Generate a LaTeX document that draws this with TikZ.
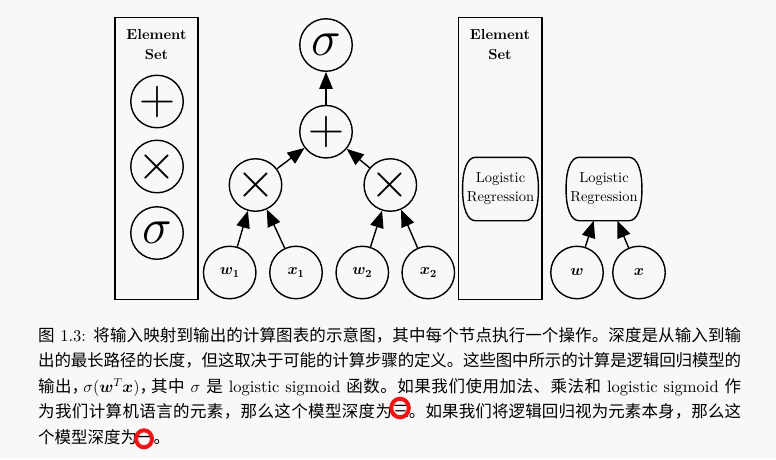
\RequirePackage{fix-cm}
\documentclass[tikz,border=0pt]{standalone}
\usepackage{fontspec}
\usepackage{bm}
\setmainfont{lmroman10-regular.otf}[BoldFont=lmroman10-bold.otf,
  ItalicFont=lmroman10-italic.otf, BoldItalicFont=lmroman10-bolditalic.otf]
\newfontfamily\cjk{Noto Sans CJK SC}
\newfontfamily\cjkhalf{Noto Sans CJK SC}[RawFeature=+halt]
\usetikzlibrary{arrows.meta}

% stretchable glue between CJK characters, so caption lines can be justified
\XeTeXinterchartokenstate=1
\newXeTeXintercharclass\cjkcls
\newcount\cjkidx
\cjkidx="4E00
\loop \XeTeXcharclass\cjkidx=\cjkcls \advance\cjkidx by 1 \ifnum\cjkidx<"A000 \repeat
\XeTeXcharclass"FF0C=\cjkcls
\XeTeXcharclass"3002=\cjkcls
\XeTeXcharclass"3001=\cjkcls
\XeTeXinterchartoks\cjkcls\cjkcls={\hskip 0pt plus 3pt minus 1pt\relax}

\definecolor{pagebg}{RGB}{248,248,248}
\definecolor{markred}{RGB}{240,20,20}

% outline of a "Logistic Regression" block: straight top and bottom, bulging sides
\newcommand\lrframe[1]{%
  \draw[lrline] ([xshift=13pt]#1.north west) -- ([xshift=-13pt]#1.north east)
    .. controls ([xshift=-5pt]#1.north east) and ([yshift=20pt]#1.east) .. (#1.east)
    .. controls ([yshift=-20pt]#1.east) and ([xshift=-5pt]#1.south east) .. ([xshift=-13pt]#1.south east)
    -- ([xshift=13pt]#1.south west)
    .. controls ([xshift=5pt]#1.south west) and ([yshift=-20pt]#1.west) .. (#1.west)
    .. controls ([yshift=20pt]#1.west) and ([xshift=5pt]#1.north west) .. cycle;}

\begin{document}
\begin{tikzpicture}[x=1pt,y=-1pt,
  opnode/.style={circle, draw, line width=1.4pt, minimum size=52.5pt, inner sep=0pt,
    font=\fontsize{50}{50}\selectfont},
  varnode/.style={circle, draw, line width=1.4pt, minimum size=52.5pt, inner sep=0pt,
    font=\fontsize{15.5}{19}\selectfont},
  setbox/.style={draw, line width=1.6pt, minimum width=83.4pt, minimum height=282pt, inner sep=0pt},
  settitle/.style={align=center, inner sep=0pt, font=\bfseries\fontsize{14.5}{20}\selectfont},
  lrnode/.style={minimum width=75.5pt, minimum height=63pt, inner sep=0pt, align=center,
    font=\fontsize{14.5}{19}\selectfont},
  lrline/.style={line width=1.4pt},
  flow/.style={-{Triangle[length=17pt,width=13.5pt]}, line width=1.4pt},
  capline/.style={anchor=base west, inner sep=0pt, font=\fontsize{16.5}{25.5}\selectfont},
  redmark/.style={draw=markred, line width=4pt}
]
\fill[pagebg] (0,0) rectangle (776,459);
\useasboundingbox (0,0) rectangle (776,459);

% element set: basic operations
\node[setbox] (setA) at (156.5,158.3) {};
\node[settitle] (setAtitle) at (156.5,45) {Element\\Set};
\node[opnode] (eplus) at (157,101.5) {$+$};
\node[opnode] (etimes) at (157,166.5) {$\times$};
\node[opnode] (esigma) at (157,233) {$\sigma$};

% graph built from the basic operations
\node[opnode] (sig) at (326,45) {$\sigma$};
\node[opnode] (add) at (326,131.7) {$+$};
\node[opnode] (mulA) at (255.5,185) {$\times$};
\node[opnode] (mulB) at (390.3,185) {$\times$};
\node[varnode] (wA) at (229.7,272.5) {$\bm{w_1}$};
\node[varnode] (xA) at (296,272.5) {$\bm{x_1}$};
\node[varnode] (wB) at (362.3,272.5) {$\bm{w_2}$};
\node[varnode] (xB) at (428.3,272.5) {$\bm{x_2}$};

\draw[flow] (add) -- (sig);
\draw[flow] (mulA) -- (add);
\draw[flow] (mulB) -- (add);
\draw[flow] (wA) -- (mulA);
\draw[flow] (xA) -- (mulA);
\draw[flow] (wB) -- (mulB);
\draw[flow] (xB) -- (mulB);

% element set: logistic regression as a single element
\node[setbox] (setB) at (500,158.3) {};
\node[settitle] (setBtitle) at (500,45) {Element\\Set};
\node[lrnode] (elr) at (500.5,189) {Logistic\\Regression};
\lrframe{elr}

% graph built from the logistic regression element
\node[lrnode] (lr) at (604,189) {Logistic\\Regression};
\lrframe{lr}
\node[varnode] (wv) at (577,272.5) {$\bm{w}$};
\node[varnode] (xv) at (639,272.5) {$\bm{x}$};
\draw[flow] (wv) -- (lr);
\draw[flow] (xv) -- (lr);

% caption
\node[capline] (cap1) at (38,341.3) {\makebox[703pt][s]{{\cjk 图} 1.3: {\cjk 将输入映射到输出的计算图表的示意图，其中每个节点执行一个操作。深度是从输入到输}}};
\node[capline] (cap2) at (38,366.8) {\makebox[703pt][s]{{\cjk 出的最长路径的长度，但这取决于可能的计算步骤的定义。这些图中所示的计算是逻辑回归模型的}}};
\node[capline] (cap3) at (38,392.3) {\makebox[703pt][s]{{\cjk 输出}{\cjkhalf ，}\hskip 3pt plus 2pt$\sigma(\bm{w}^T\bm{x})${\cjkhalf ，}\hskip 3pt plus 2pt{\cjk 其中} $\sigma$ {\cjk 是} logistic sigmoid {\cjk 函数。如果我们使用加法、乘法和} logistic sigmoid {\cjk 作}}};
\node[capline] (cap4) at (38,417.8) {\makebox[370.8pt][s]{\cjk 为我们计算机语言的元素，那么这个模型深度为三}\makebox[332.2pt][s]{\cjk 。如果我们将逻辑回归视为元素本身，那么这}};
\node[capline] (cap5) at (38,443.3) {{\cjk 个模型深度为一。}};

% hand-drawn highlight rings
\draw[redmark] (400,408) ellipse [x radius=8.8, y radius=9.3];
\draw[redmark] (144,438.8) ellipse [x radius=8, y radius=8.5];
\end{tikzpicture}
\end{document}
